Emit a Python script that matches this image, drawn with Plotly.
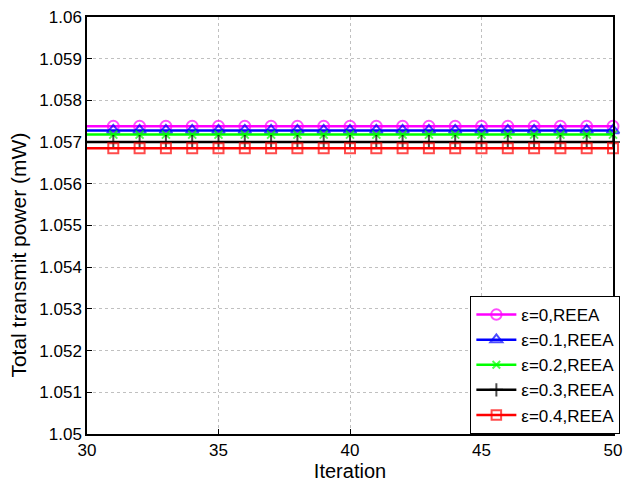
import plotly.graph_objects as go

iterations = list(range(30, 51))
series_names = ["ε=0,REEA", "ε=0.1,REEA", "ε=0.2,REEA", "ε=0.3,REEA", "ε=0.4,REEA"]
series_levels = [1.05738, 1.05728, 1.05718, 1.05700, 1.05685]
colors = ["#ff00ff", "#0000ff", "#00ff00", "#000000", "#ff0000"]
symbols = ["circle-open", "triangle-up-open", "x-thin-open", "cross-thin-open", "square-open"]
msizes = [11, 11, 8, 10, 10]

y_tick_vals = [1.05 + i * 0.001 for i in range(11)]
y_tick_text = ["1.05", "1.051", "1.052", "1.053", "1.054", "1.055", "1.056", "1.057", "1.058", "1.059", "1.06"]
x_tick_vals = [30, 35, 40, 45, 50]

FONT = "Liberation Sans, Arial, Helvetica"

fig = go.Figure()
for name, lvl, c, s, ms in zip(series_names, series_levels, colors, symbols, msizes):
    yvals = [lvl for _ in iterations]
    sizes = [0 if x == iterations[0] else ms for x in iterations]
    fig.add_trace(go.Scatter(
        x=iterations, y=yvals, name=name, mode="lines+markers",
        line=dict(color=c, width=2.5),
        marker=dict(symbol=s, size=sizes, color=c, line=dict(color=c, width=2)),
        cliponaxis=False,
    ))

axis_common = dict(
    showline=True, linecolor="black", linewidth=1.5, mirror=True,
    ticks="inside", ticklen=5, tickcolor="black",
    showgrid=True, gridcolor="#c0c0c0", griddash="dot", gridwidth=1,
    zeroline=False,
    tickfont=dict(family=FONT, size=17, color="black"),
)

fig.update_layout(
    width=630, height=486,
    margin=dict(l=87, r=8, t=15, b=51),
    paper_bgcolor="white", plot_bgcolor="white",
    font=dict(family=FONT, color="black"),
    xaxis=dict(range=[30, 50], tickvals=x_tick_vals,
               title=dict(text="Iteration", font=dict(size=20), standoff=4),
               **axis_common),
    yaxis=dict(range=[1.05, 1.06], tickvals=y_tick_vals, ticktext=y_tick_text,
               **axis_common),
    legend=dict(
        x=1.014, y=0.0, xanchor="right", yanchor="bottom",
        bgcolor="white", bordercolor="black", borderwidth=1,
        font=dict(size=17, family=FONT),
        tracegroupgap=0, itemwidth=40,
    ),
    annotations=[dict(
        text="Total transmit power (mW)", textangle=-90,
        xref="paper", yref="paper", x=-0.131, y=0.428,
        xanchor="center", yanchor="middle", showarrow=False,
        font=dict(size=21, family=FONT, color="black"),
    )],
)

fig.write_html("out.html")
